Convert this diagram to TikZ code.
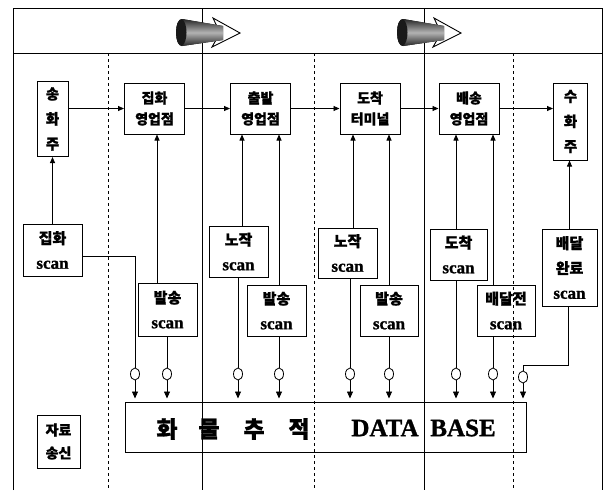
\documentclass[tikz,border=0pt]{standalone}
\usepackage{fontspec}
\setmainfont{Liberation Serif}[BoldFeatures={FakeBold=1.2}]
\newfontfamily\kr{Noto Sans CJK KR}[BoldFeatures={FakeBold=1.2}]
\usetikzlibrary{arrows.meta,shapes.geometric}
\newcommand\scantxt{{\rmfamily\bfseries\fontsize{17}{20}\selectfont scan}}
\begin{document}
\begin{tikzpicture}[x=1pt,y=-1pt,
  frame/.style={line width=0.9pt},
  divdash/.style={line width=0.9pt, dash pattern=on 3pt off 3pt},
  box/.style={draw, line width=1pt, inner sep=0pt, align=center},
  mainbox/.style={box, font=\kr\bfseries\fontsize{14}{21}\selectfont, minimum width=60pt, minimum height=51pt},
  vbox/.style={box, font=\kr\bfseries\fontsize{14.5}{25}\selectfont, minimum width=31pt, minimum height=75pt},
  scanbox/.style={box, font=\kr\bfseries\fontsize{15}{25}\selectfont, minimum width=58pt, minimum height=51pt},
  conn/.style={line width=0.8pt},
  arr/.style={conn, -{Triangle[length=6pt,width=5pt]}},
  dbarr/.style={conn, -{Triangle[length=7pt,width=6pt]}, shorten >=3pt},
  tap/.style={draw, ellipse, fill=white, line width=0.8pt, minimum width=9pt, minimum height=12pt, inner sep=0pt},
  dbk/.style={font=\kr\bfseries\fontsize{23}{24}\selectfont, inner sep=0pt},
  dbl/.style={font=\rmfamily\bfseries\fontsize{25}{27}\selectfont, inner sep=0pt},
  hdrbody/.style={top color=black!85, bottom color=black!85, middle color=black!30},
]
\useasboundingbox (0,0) rectangle (604,490);

% frame and lanes
\draw[frame] (13,490) -- (13,8) -- (602,8) -- (602,490);
\draw[frame] (13,53) -- (602,53);
\draw[frame] (202,8) -- (202,490);
\draw[frame] (424,8) -- (424,490);
\draw[divdash] (108,53) -- (108,490);
\draw[divdash] (314,53) -- (314,490);
\draw[divdash] (513,53) -- (513,490);

% header arrows
\foreach \dx in {0,221} {
\begin{scope}[xshift=\dx pt]
  \filldraw[fill=white, draw=black, line width=0.9pt] (213,18) -- (240,33) -- (212,47) -- (220,33) -- cycle;
  \fill[hdrbody] (182,19) -- (223,26) -- (223,40) -- (182,46) .. controls (174,46) and (174,19) .. (182,19) -- cycle;
  \fill[black!90] (182,19) .. controls (174,19) and (174,46) .. (182,46) .. controls (188,42) and (188,23) .. (182,19) -- cycle;
\end{scope}
}

% main row
\node[vbox] (shz) at (52.5,119) {송\\화\\주};
\node[mainbox] (jh) at (154.5,108.5) {집화\\영업점};
\node[mainbox] (ch) at (260.5,108.5) {출발\\영업점};
\node[mainbox] (dt) at (370,108.5) {도착\\터미널};
\node[mainbox] (bsng) at (469,108.5) {배송\\영업점};
\node[vbox, minimum width=34pt, minimum height=77pt] (shj) at (570.5,121.5) {수\\화\\주};

\draw[arr] (shz.east |- jh.west) -- (jh.west);
\draw[arr] (jh.east) -- (ch.west);
\draw[arr] (ch.east) -- (dt.west);
\draw[arr] (dt.east) -- (bsng.west);
\draw[arr] (bsng.east) -- (bsng.east -| shj.west);

% scan boxes
\node[scanbox, minimum width=59pt, minimum height=52pt] (js) at (52.5,250) {집화\\\scantxt};
\node[scanbox, minimum width=59pt, minimum height=53pt] (bs1) at (167.5,309.5) {발송\\\scantxt};
\node[scanbox, minimum width=59pt] (nc1) at (238.5,251.5) {노작\\\scantxt};
\node[scanbox, minimum width=59pt] (bs2) at (276.5,310.5) {발송\\\scantxt};
\node[scanbox, minimum width=59pt, minimum height=50pt] (nc2) at (347.5,253) {노작\\\scantxt};
\node[scanbox] (bs3) at (389,310.5) {발송\\\scantxt};
\node[scanbox, minimum width=57pt] (dc) at (458.5,254.5) {도착\\\scantxt};
\node[scanbox] (bd) at (506,310.5) {배달전\\\scantxt};
\node[scanbox, minimum width=55pt, minimum height=77pt] (bw) at (569.5,267.5) {배달\\완료\\\scantxt};

% arrows up into the main boxes
\draw[arr] (js.north) -- (js.north |- shz.south);
\draw[arr] ([xshift=-10.5pt]bs1.north) -- ([xshift=-10.5pt]bs1.north |- jh.south);
\draw[arr] ([xshift=3.5pt]nc1.north) -- ([xshift=3.5pt]nc1.north |- ch.south);
\draw[arr] ([xshift=2.5pt]bs2.north) -- ([xshift=2.5pt]bs2.north |- ch.south);
\draw[arr] ([xshift=5.5pt]nc2.north) -- ([xshift=5.5pt]nc2.north |- dt.south);
\draw[arr] (bs3.north) -- (bs3.north |- dt.south);
\draw[arr] ([xshift=-2.5pt]dc.north) -- ([xshift=-2.5pt]dc.north |- bsng.south);
\draw[arr] ([xshift=-13pt]bd.north) -- ([xshift=-13pt]bd.north |- bsng.south);
\draw[arr] (bw.north) -- (bw.north |- shj.south);

% database
\node[draw, line width=1pt, minimum width=401pt, minimum height=50pt, inner sep=0pt] (db) at (325.5,427) {};
\node[dbk] (d1) at (167,429) {화};
\node[dbk] (d2) at (209,429) {물};
\node[dbk] (d3) at (254,429) {추};
\node[dbk] (d4) at (299,429) {적};
\node[dbl] (d5) at (385,428) {DATA};
\node[dbl] (d6) at (463,428) {BASE};

% taps
\node[tap] (t1) at (135,374) {};
\node[tap] (t2) at (167,374) {};
\node[tap] (t3) at (238,374) {};
\node[tap] (t4) at (279,374) {};
\node[tap] (t5) at (350,374) {};
\node[tap] (t6) at (389,374) {};
\node[tap] (t7) at (456,374) {};
\node[tap] (t8) at (493,374) {};
\node[tap] (t9) at (523,377) {};
\coordinate (bend) at (568,365);

\draw[conn] ([yshift=-6pt]js.east) -| (t1.north);
\draw[conn] (bs1.south -| t2) -- (t2.north);
\draw[conn] (nc1.south -| t3) -- (t3.north);
\draw[conn] (bs2.south -| t4) -- (t4.north);
\draw[conn] (nc2.south -| t5) -- (t5.north);
\draw[conn] (bs3.south -| t6) -- (t6.north);
\draw[conn] (dc.south -| t7) -- (t7.north);
\draw[conn] (bd.south -| t8) -- (t8.north);
\draw[conn] (bw.south -| bend) -- (bend) -| (t9.north);
\foreach \t in {t1,t2,t3,t4,t5,t6,t7,t8,t9}
  \draw[dbarr] (\t.south) -- (\t.south |- db.north);

% data transmission label
\node[box, font=\kr\bfseries\fontsize{14}{23}\selectfont, minimum width=43pt, minimum height=53pt] (jr) at (58.5,441.5) {자료\\송신};
\end{tikzpicture}
\end{document}
